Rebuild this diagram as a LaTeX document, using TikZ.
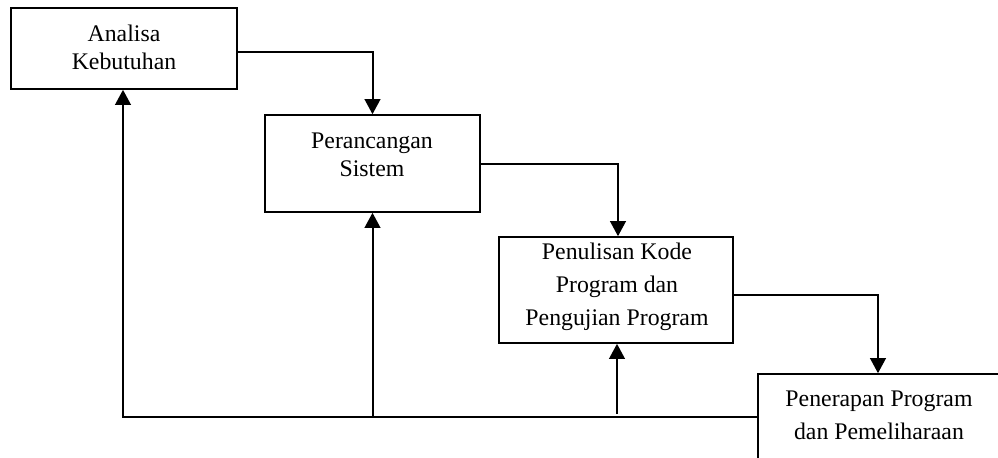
\documentclass[tikz,border=0pt]{standalone}
\usepackage{fontspec}
\setmainfont{Liberation Serif}
\usetikzlibrary{arrows.meta}
\begin{document}
\begin{tikzpicture}[x=0.5pt,y=-0.5pt,
  box/.style={draw, line width=0.8pt, inner sep=0pt, rectangle},
  lbl/.style={align=center, inner sep=0pt, anchor=base, font=\fontsize{11.9pt}{14pt}\selectfont},
  lblw/.style={align=center, inner sep=0pt, anchor=base, font=\fontsize{11.9pt}{16.5pt}\selectfont},
  flow/.style={line width=1pt, -{Triangle[width=7.8pt,length=7.5pt]}}]
\useasboundingbox (0,0) rectangle (998,457);
\clip (0,0) rectangle (998,457);
\node[box, minimum width=113pt, minimum height=40.5pt] (b1) at (124,48.5) {};
\node[box, minimum width=107.5pt, minimum height=48.5pt] (b2) at (372.5,163.5) {};
\node[box, minimum width=117pt, minimum height=53pt] (b3) at (616,290) {};
\node[box, minimum width=126pt, minimum height=53pt] (b4) at (884,427) {};
\node[lbl] (t1) at (124,69) {Analisa\\Kebutuhan};
\node[lbl] (t2) at (372,176) {Perancangan\\Sistem};
\node[lblw] (t3) at (617,325) {Penulisan Kode\\Program dan\\Pengujian Program};
\node[lblw] (t4) at (879,439) {Penerapan Program\\dan Pemeliharaan};
\draw[flow] ([yshift=-1.75pt]b1.east) -| (b2.north);
\draw[flow] (b2.east) -| ([xshift=1pt]b3.north);
\draw[flow] ([yshift=-2.5pt]b3.east) -| ([xshift=-3pt]b4.north);
\coordinate (j) at (b4.west |- 0,417);
\coordinate (j2) at (b2.south |- j);
\coordinate (j3) at (617,414);
\draw[flow] (j) -| ([xshift=-0.5pt]b1.south);
\draw[flow] (j2) -- (b2.south);
\draw[flow] (j3) -- (j3 |- b3.south);
\end{tikzpicture}
\end{document}
